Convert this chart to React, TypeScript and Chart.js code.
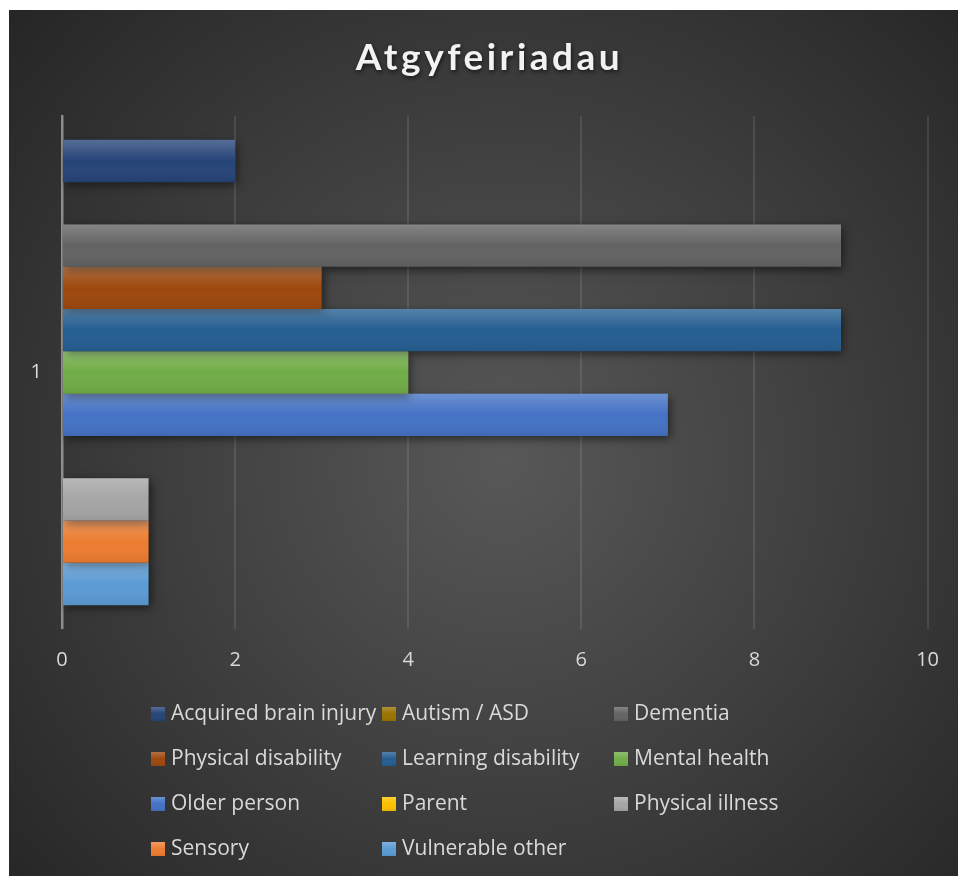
import React, { useEffect, useRef } from "react";
import { Chart, registerables } from "chart.js";

Chart.register(...registerables);

const chartTitle = "Atgyfeiriadau";
const categories = ["1"];
const seriesNames = [
  "Acquired brain injury",
  "Autism / ASD",
  "Dementia",
  "Physical disability",
  "Learning disability",
  "Mental health",
  "Older person",
  "Parent",
  "Physical illness",
  "Sensory",
  "Vulnerable other",
];
const seriesValues = [2, 0, 9, 3, 9, 4, 7, 0, 1, 1, 1];
const seriesColors = [
  "#264478",
  "#997300",
  "#636363",
  "#9E480E",
  "#255E91",
  "#70AD47",
  "#4472C4",
  "#FFC000",
  "#A5A5A5",
  "#ED7D31",
  "#5B9BD5",
];
const xMin = 0;
const xMax = 10;
const xStep = 2;

const FONT = "'Open Sans', Lato, sans-serif";
const TITLE_FONT = "Lato, 'Open Sans', sans-serif";
const TEXT = "#d9d9d9";

function shade(ctx: CanvasRenderingContext2D, x: number, y: number, w: number, h: number) {
  const g = ctx.createLinearGradient(0, y, 0, y + h);
  g.addColorStop(0, "rgba(255,255,255,0.22)");
  g.addColorStop(0.5, "rgba(255,255,255,0)");
  g.addColorStop(1, "rgba(0,0,0,0.08)");
  ctx.fillStyle = g;
  ctx.fillRect(x, y, w, h);
}

const decoPlugin = {
  id: "deco",
  beforeDraw(chart: any) {
    const { ctx, width, height } = chart;
    ctx.save();
    const cx = width * 0.52;
    const cy = height * 0.52;
    const g = ctx.createRadialGradient(cx, cy, 0, cx, cy, 660);
    g.addColorStop(0, "#585858");
    g.addColorStop(1, "#262626");
    ctx.fillStyle = g;
    ctx.fillRect(0, 0, width, height);
    ctx.restore();
  },
  beforeDatasetsDraw(chart: any) {
    const ctx = chart.ctx;
    ctx.save();
    ctx.shadowColor = "rgba(0,0,0,0.55)";
    ctx.shadowBlur = 9;
    ctx.shadowOffsetX = 2;
    ctx.shadowOffsetY = 3;
  },
  afterDatasetsDraw(chart: any) {
    const ctx = chart.ctx;
    ctx.restore();
    ctx.save();
    chart.data.datasets.forEach((_: any, di: number) => {
      const meta = chart.getDatasetMeta(di);
      meta.data.forEach((el: any) => {
        const p = el.getProps(["x", "y", "base", "height"], true);
        const left = Math.min(p.x, p.base);
        const w = Math.abs(p.x - p.base);
        if (w < 0.5) return;
        shade(ctx, left, p.y - p.height / 2, w, p.height);
      });
    });
    ctx.restore();
  },
  afterDraw(chart: any) {
    const { ctx, width } = chart;
    // Title
    ctx.save();
    ctx.font = `bold 37px ${TITLE_FONT}`;
    (ctx as any).letterSpacing = "3.5px";
    ctx.textAlign = "center";
    ctx.textBaseline = "alphabetic";
    ctx.shadowColor = "rgba(0,0,0,0.6)";
    ctx.shadowBlur = 4;
    ctx.shadowOffsetX = 1;
    ctx.shadowOffsetY = 2;
    ctx.fillStyle = "#f2f2f2";
    ctx.fillText(chartTitle, width / 2 + 6, 60);
    ctx.restore();

    // Legend
    ctx.save();
    const colX = [142, 373, 605];
    const rowY0 = 704;
    const rowStep = 45;
    ctx.font = `21px ${FONT}`;
    ctx.textBaseline = "middle";
    ctx.textAlign = "left";
    chart.data.datasets.forEach((ds: any, i: number) => {
      const x = colX[i % 3];
      const y = rowY0 + Math.floor(i / 3) * rowStep;
      ctx.fillStyle = ds.backgroundColor;
      ctx.fillRect(x, y - 7, 14, 14);
      shade(ctx, x, y - 7, 14, 14);
      ctx.fillStyle = TEXT;
      ctx.fillText(ds.label, x + 20, y);
    });
    ctx.restore();
  },
};

export default function App() {
  const ref = useRef<HTMLCanvasElement | null>(null);

  useEffect(() => {
    document.body.style.overflow = "hidden";
    const canvas = ref.current;
    if (!canvas) return;
    const chart = new Chart(canvas, {
      type: "bar",
      data: {
        labels: categories,
        datasets: seriesNames.map((name, i) => ({
          label: name,
          data: [seriesValues[i]],
          backgroundColor: seriesColors[i],
          borderWidth: 0,
          categoryPercentage: 0.907,
          barPercentage: 1,
        })),
      },
      options: {
        indexAxis: "y",
        responsive: false,
        animation: false,
        devicePixelRatio: 1,
        layout: { padding: { top: 106, left: 0, right: 29, bottom: 197 } },
        plugins: {
          legend: { display: false },
          title: { display: false },
          tooltip: { enabled: false },
        },
        scales: {
          x: {
            min: xMin,
            max: xMax,
            ticks: {
              stepSize: xStep,
              color: TEXT,
              font: { family: FONT, size: 20 },
              padding: 19,
            },
            grid: {
              drawTicks: false,
              lineWidth: 2,
              color: (c: any) => (c.tick && c.tick.value === 0 ? "rgba(0,0,0,0)" : "rgba(255,255,255,0.1)"),
            },
            border: { display: false },
            afterFit: (s: any) => {
              s.height = 50;
            },
          },
          y: {
            z: 1,
            ticks: {
              color: TEXT,
              font: { family: FONT, size: 20 },
              padding: 20,
            },
            grid: { drawTicks: false, color: "rgba(0,0,0,0)", lineWidth: 0 },
            border: { display: true, color: "rgba(190,190,190,0.65)", width: 2.5 },
            afterFit: (s: any) => {
              s.width = 53;
            },
          },
        },
      },
      plugins: [decoPlugin],
    } as any);
    return () => chart.destroy();
  }, []);

  return (
    <div style={{ position: "fixed", left: 9, top: 10, width: 949, height: 866 }}>
      <canvas ref={ref} width={949} height={866} style={{ display: "block", width: 949, height: 866 }} />
    </div>
  );
}
